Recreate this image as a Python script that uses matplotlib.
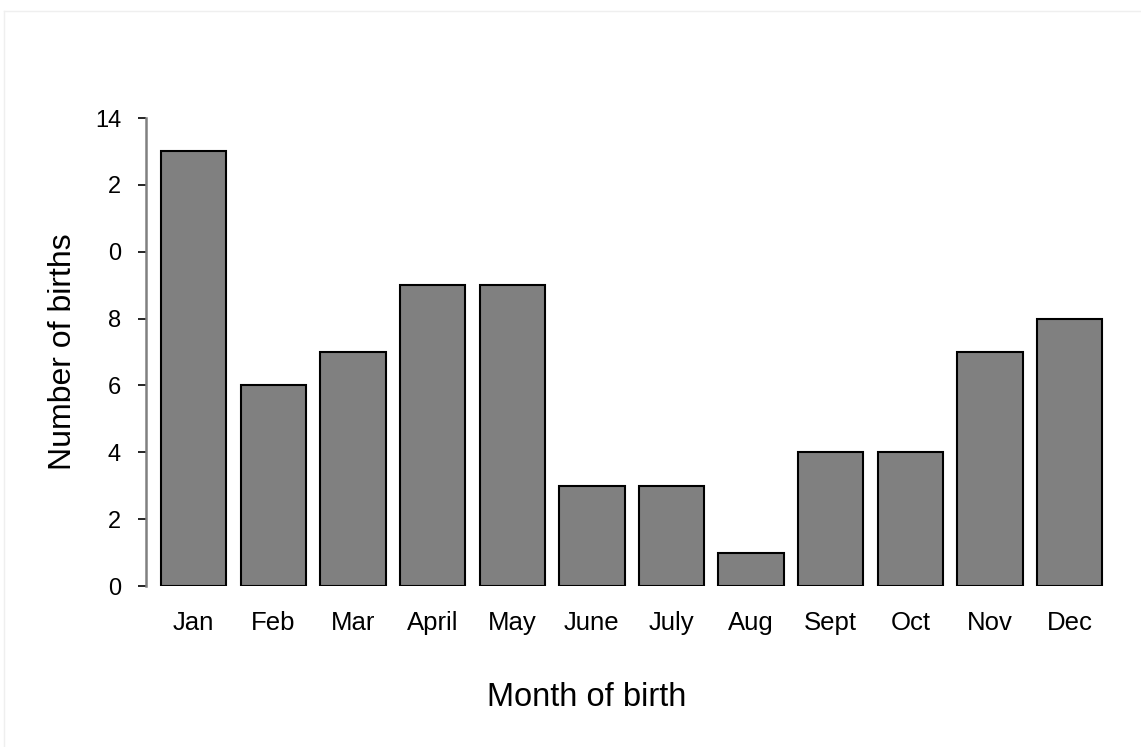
import matplotlib.pyplot as plt

plt.rcParams['font.family'] = ['Liberation Sans', 'DejaVu Sans']

months = ["Jan", "Feb", "Mar", "April", "May", "June", "July", "Aug", "Sept", "Oct", "Nov", "Dec"]
births = [13, 6, 7, 9, 9, 3, 3, 1, 4, 4, 7, 8]
ytick_vals = [0, 2, 4, 6, 8, 10, 12, 14]
ytick_text = ["0", "2", "4", "6", "8", "0", "2", "14"]  # as printed on the original

fig = plt.figure(figsize=(11.41, 7.47), dpi=100)
ax = fig.add_axes([0.128, 0.2155, 0.845, 0.6265])

x = range(len(months))
ax.bar(x, births, width=0.82, color="#808080", edgecolor="black", linewidth=1.5)

ax.set_xlim(-0.6, 11.51)
ax.set_ylim(0, 14)
ax.set_yticks(ytick_vals)
ax.set_yticklabels(ytick_text)
ax.set_xticks(list(x))
ax.set_xticklabels(months)

for s in ["top", "right", "bottom"]:
    ax.spines[s].set_visible(False)
ax.spines["left"].set_color("#808080")
ax.spines["left"].set_linewidth(1.8)

ax.tick_params(axis="y", length=6, width=1.2, color="black", pad=12, labelsize=17)
ax.tick_params(axis="x", length=0, pad=18, labelsize=18.5)

ax.set_xlabel("Month of birth", fontsize=23.5)
ax.xaxis.set_label_coords(0.4575, -0.205)
ax.set_ylabel("Number of births", fontsize=23, labelpad=12)

# faint frame of the original screenshot
fig.add_artist(plt.Line2D([0.0035, 1], [0.985, 0.985], color="#efefef", lw=1))
fig.add_artist(plt.Line2D([0.0035, 0.0035], [0, 0.985], color="#efefef", lw=1))

fig.savefig("out.png", dpi=100)
